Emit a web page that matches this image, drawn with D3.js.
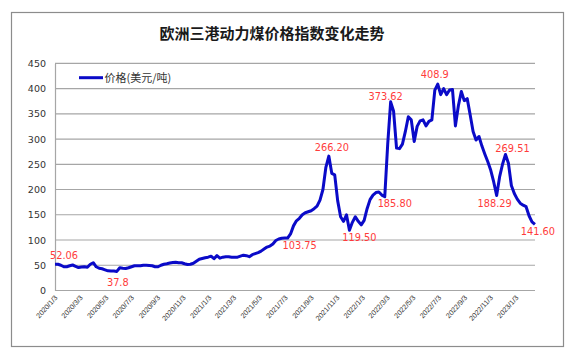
<!DOCTYPE html>
<html>
<head>
<meta charset="utf-8">
<script src="https://cdn.jsdelivr.net/npm/d3@7"></script>
<style>
  html, body { margin: 0; padding: 0; background: #fff; }
  svg { display: block; }
</style>
</head>
<body>
<svg id="chart" width="575" height="358"></svg>
<script>
// ---------------- DATA ----------------
const chartTitle = "欧洲三港动力煤价格指数变化走势";
const seriesName = "价格(美元/吨)";
const startDate = "2020/1/3";   // first weekly observation (Friday)
const weekStepDays = 7;
const prices = [
  52.06, 52, 50, 47, 47, 49, 50.5, 48, 45.5, 46.5,
  47, 46, 52, 55, 47, 44, 43, 41, 39, 38.5,
  38.5, 37.8, 45, 44, 43.5, 45, 47, 49, 49, 49,
  50, 50, 49.5, 49, 47, 47, 50, 52, 53, 54.5,
  55.5, 56, 55, 55, 53, 51.5, 52, 54, 58, 62,
  63.5, 65, 66, 68, 63, 69, 64, 66, 67, 67,
  66, 66, 66, 68, 70, 69, 67, 71, 73, 75,
  78, 82, 86, 88, 92, 99, 102, 103.5, 103.75, 103.75,
  112, 128, 138, 143, 150, 154, 156, 158, 162, 167,
  179, 200, 244, 266.2, 232, 229, 178, 146, 137, 150,
  119.5, 135, 146, 137, 130, 139, 162, 180, 189, 194,
  195, 189, 185.8, 290, 373.62, 355, 282, 281, 290, 315,
  344, 338, 295, 325, 336, 338, 326, 335, 338, 397,
  408.9, 388, 400, 388, 397, 398, 326, 366, 394, 376,
  380, 348, 315, 298, 305, 286, 270, 255, 238, 215,
  188.29, 225, 250, 269.51, 252, 208, 192, 181, 173, 169,
  166, 148, 136, 131
];
const yTicks = [0, 50, 100, 150, 200, 250, 300, 350, 400, 450];
const xTickLabels = [
  "2020/1/3", "2020/3/3", "2020/5/3", "2020/7/3", "2020/9/3", "2020/11/3",
  "2021/1/3", "2021/3/3", "2021/5/3", "2021/7/3", "2021/9/3", "2021/11/3",
  "2022/1/3", "2022/3/3", "2022/5/3", "2022/7/3", "2022/9/3", "2022/11/3",
  "2023/1/3"
];
// data labels: index of the point and the text shown
const labelIndex = [0, 21, 79, 93, 100, 112, 114, 130, 150, 153, 163];
const labelText = ["52.06", "37.8", "103.75", "266.20", "119.50", "185.80",
                   "373.62", "408.9", "188.29", "269.51", "141.60"];

// ---------------- STYLE / LAYOUT ----------------
const labelOffsets = [
  [9, -5], [1, 15], [12, 11], [3, -5], [10, 11], [10, 10],
  [-5, -2], [-3, -6.5], [-2, 12], [7, -2], [3, 11]
];
const plot = { left: 55, right: 535, top: 63.3, bottom: 290.5 };
const parse = d3.timeParse("%Y/%m/%d");
const t0 = parse(startDate);
const dates = prices.map((_, i) => d3.timeDay.offset(t0, i * weekStepDays));
const data = prices.map((v, i) => ({ date: dates[i], value: v }));

const svg = d3.select("#chart");
svg.append("rect").attr("width", 575).attr("height", 358).attr("fill", "#fff");

// outer border
svg.append("rect")
  .attr("x", 11.5).attr("y", 12.5).attr("width", 552).attr("height", 334)
  .attr("fill", "none").attr("stroke", "#8c8c8c").attr("stroke-width", 1.2);

// title
svg.append("text")
  .attr("x", 272).attr("y", 39)
  .attr("text-anchor", "middle")
  .attr("font-family", "'Noto Sans CJK SC', sans-serif")
  .attr("font-size", 15).attr("font-weight", "bold")
  .attr("fill", "#1a1a1a")
  .text(chartTitle);

// scales
const x = d3.scaleTime()
  .domain([parse(xTickLabels[0]), parse(xTickLabels[xTickLabels.length - 1])])
  .range([55, 516]);
const y = d3.scaleLinear().domain([0, 450]).range([plot.bottom, plot.top]);

// gridlines
svg.append("g").selectAll("line").data(yTicks).join("line")
  .attr("x1", plot.left).attr("x2", plot.right)
  .attr("y1", d => y(d)).attr("y2", d => y(d))
  .attr("stroke", "#a6a6a6").attr("stroke-width", 1.2);

// y axis
const yAxis = d3.axisLeft(y).tickValues(yTicks).tickSize(0).tickPadding(9);
const gy = svg.append("g").attr("transform", `translate(${plot.left},0)`).call(yAxis);
gy.select(".domain").attr("stroke", "#a6a6a6").attr("stroke-width", 1.2);
gy.selectAll("text")
  .attr("font-family", "'DejaVu Sans', sans-serif")
  .attr("font-size", 9.5).attr("fill", "#333");

// x axis labels
const gx = svg.append("g");
gx.selectAll("text").data(xTickLabels).join("text")
  .attr("transform", d => `translate(${x(parse(d)) + 3},${298}) rotate(-48)`)
  .attr("text-anchor", "end")
  .attr("font-family", "'Liberation Sans', Arial, sans-serif")
  .attr("font-size", 7.2).attr("fill", "#333")
  .text(d => d);

// line
const line = d3.line().x(d => x(d.date)).y(d => y(d.value));
svg.append("path").datum(data)
  .attr("d", line)
  .attr("fill", "none")
  .attr("stroke", "#0a0ac8")
  .attr("stroke-width", 3)
  .attr("stroke-linejoin", "round");

// data labels
svg.append("g").selectAll("text").data(labelIndex).join("text")
  .attr("x", (d, k) => x(data[d].date) + labelOffsets[k][0])
  .attr("y", (d, k) => y(data[d].value) + labelOffsets[k][1])
  .attr("text-anchor", "middle")
  .attr("font-family", "'DejaVu Sans', Verdana, sans-serif")
  .attr("font-size", 9.8).attr("fill", "#ff3b3b")
  .text((d, k) => labelText[k]);

// legend
svg.append("line")
  .attr("x1", 79).attr("x2", 103).attr("y1", 77.7).attr("y2", 77.7)
  .attr("stroke", "#0a0ac8").attr("stroke-width", 3);
svg.append("text")
  .attr("x", 104.5).attr("y", 81.8)
  .attr("font-family", "'Noto Sans CJK SC', sans-serif")
  .attr("font-size", 11).attr("fill", "#333")
  .text(seriesName);
</script>
</body>
</html>
